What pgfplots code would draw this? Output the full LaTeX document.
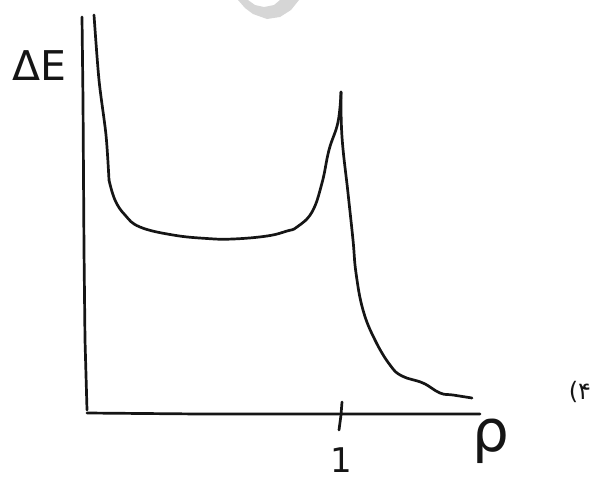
\documentclass[border=0pt]{standalone}
\usepackage{pgfplots}
\usepackage{fontspec}
\pgfplotsset{compat=1.18}
\setmainfont{DejaVu Sans}
\newfontfamily\arabicfont[Script=Arabic]{DejaVu Sans}
\TeXXeTstate=1
\definecolor{ink}{HTML}{151515}
\definecolor{wmgray}{HTML}{D6D6D6}
\begin{document}
\begin{tikzpicture}
\begin{axis}[
    scale only axis,
    width=594pt,
    height=483pt,
    xmin=0, xmax=594,
    ymin=0, ymax=483,
    y dir=reverse,
    axis lines=none,
    clip=true,
    every axis plot/.append style={line width=2.7pt, line cap=round, line join=round, no markers},
]
% grey watermark at the top edge
\addplot[fill=wmgray, draw=none, forget plot] coordinates {
    (238,0) (245,8) (253,14) (267,19) (280,17) (291,10) (299,0)
    (280,0) (274,5) (264,7) (255,5) (248,0)} --cycle;
% axes and tick
\addplot[ink] coordinates {(82,17) (83,100) (84,250) (85,340) (87,410)};
\addplot[ink] coordinates {(87,413) (200,414) (340,414) (480,414)};
\addplot[ink] coordinates {(342,402) (341,415) (339,430)};
% curve, down the left branch
\addplot[ink, smooth, tension=0.5] coordinates {
    (94,15) (99,80) (106,135) (109,180)};
% curve, along the floor and up to the peak
\addplot[ink, smooth, tension=0.7] coordinates {
    (109,180) (115,200) (125,215) (140,227) (173,235)
    (207,238.5) (233,239) (267,236) (287,231) (297,227) (312,212) (322,183)
    (329,150) (338,122) (341,92)};
% curve, right of the peak
\addplot[ink, smooth, tension=0.7] coordinates {
    (341,92) (342,137) (348,193) (353,240) (356,273) (363,310) (375,340) (390,365)
    (402,376) (423,383) (440,393) (453,395) (472,398)};
\node[ink, anchor=center, inner sep=0pt] at (axis cs:39,66) {\fontsize{41}{41}\selectfont ΔE};
\node[ink, anchor=center, inner sep=0pt] at (axis cs:491,441) {\fontsize{58}{58}\selectfont ρ};
\node[ink, anchor=center, inner sep=0pt] at (axis cs:341,460) {\fontsize{34}{34}\selectfont 1};
\node[ink, anchor=center, inner sep=0pt] at (axis cs:580,392) {\fontsize{24}{24}\selectfont\arabicfont\beginR ۴)\endR};
\end{axis}
\path (current axis.south west) rectangle (current axis.north east);
\end{tikzpicture}
\end{document}
